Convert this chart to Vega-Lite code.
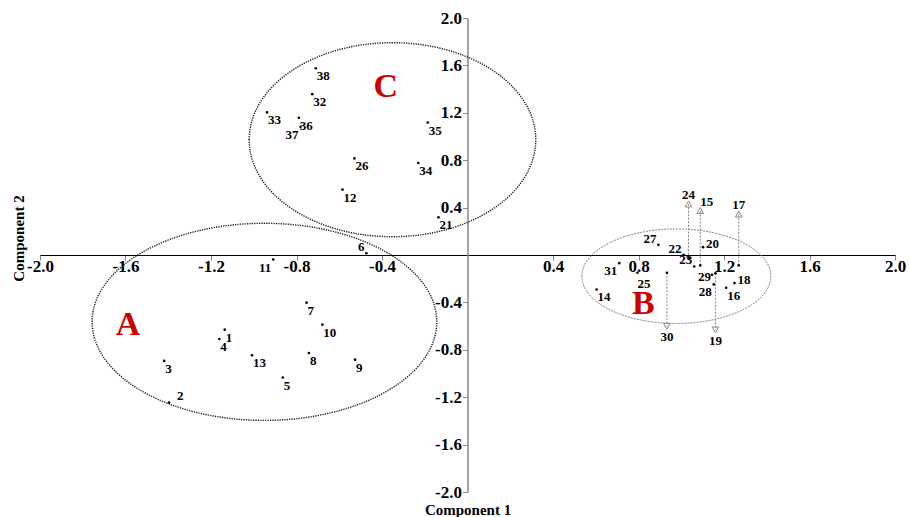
{
  "$schema": "https://vega.github.io/schema/vega-lite/v6.json",
  "autosize": {"type": "none"},
  "padding": {"left": 40, "top": 18, "right": 14, "bottom": 25},
  "width": 855,
  "height": 474,
  "background": "white",
  "config": {"view": {"stroke": null}},
  "datasets": {
    "pts": [
      {"id": "38", "x": -0.710, "y": 1.576},
      {"id": "32", "x": -0.726, "y": 1.357},
      {"id": "33", "x": -0.938, "y": 1.203},
      {"id": "36", "x": -0.789, "y": 1.158},
      {"id": "37", "x": -0.781, "y": 1.082},
      {"id": "26", "x": -0.529, "y": 0.815},
      {"id": "34", "x": -0.230, "y": 0.776},
      {"id": "35", "x": -0.186, "y": 1.118},
      {"id": "12", "x": -0.585, "y": 0.552},
      {"id": "21", "x": -0.136, "y": 0.318},
      {"id": "6", "x": -0.473, "y": 0.015},
      {"id": "11", "x": -0.909, "y": -0.038},
      {"id": "7", "x": -0.753, "y": -0.402},
      {"id": "10", "x": -0.679, "y": -0.588},
      {"id": "1", "x": -1.136, "y": -0.630},
      {"id": "4", "x": -1.161, "y": -0.709},
      {"id": "13", "x": -1.008, "y": -0.846},
      {"id": "8", "x": -0.742, "y": -0.827},
      {"id": "9", "x": -0.526, "y": -0.883},
      {"id": "3", "x": -1.419, "y": -0.894},
      {"id": "5", "x": -0.864, "y": -1.034},
      {"id": "2", "x": -1.396, "y": -1.245},
      {"id": "20", "x": 1.102, "y": 0.066},
      {"id": "27", "x": 0.893, "y": 0.086},
      {"id": "22", "x": 1.011, "y": 0.002},
      {"id": "23", "x": 1.061, "y": -0.097},
      {"id": "29", "x": 1.144, "y": -0.167},
      {"id": "28", "x": 1.152, "y": -0.248},
      {"id": "16", "x": 1.210, "y": -0.276},
      {"id": "18", "x": 1.249, "y": -0.237},
      {"id": "31", "x": 0.710, "y": -0.069},
      {"id": "25", "x": 0.795, "y": -0.150},
      {"id": "14", "x": 0.604, "y": -0.291}
    ],
    "arrows": [
      {"id": "24", "x": 1.034, "y": -0.027, "yend": 0.430},
      {"id": "15", "x": 1.089, "y": -0.088, "yend": 0.375},
      {"id": "17", "x": 1.269, "y": -0.088, "yend": 0.345},
      {"id": "30", "x": 0.933, "y": -0.150, "yend": -0.602},
      {"id": "19", "x": 1.160, "y": -0.155, "yend": -0.632}
    ],
    "clusters": [
      {"cluster": "A", "x": -0.950, "y": -0.564},
      {"cluster": "C", "x": -0.351, "y": 0.973},
      {"cluster": "B", "x": 0.977, "y": -0.179}
    ],
    "letters": [
      {"cluster": "A", "x": -1.588, "y": -0.577},
      {"cluster": "C", "x": -0.382, "y": 1.436},
      {"cluster": "B", "x": 0.823, "y": -0.400}
    ]
  },
  "encoding": {
    "x": {
      "field": "x", "type": "quantitative", "title": "Component 1",
      "scale": {"domain": [-2, 2], "nice": false, "zero": false},
      "axis": {
        "orient": "bottom", "offset": -237,
        "values": [-2, -1.6, -1.2, -0.8, -0.4, 0.4, 0.8, 1.2, 1.6, 2],
        "labelExpr": "replace(format(datum.value, '.1f'), '\u2212', '-')", "grid": false,
        "domainColor": "#000000", "domainWidth": 1,
        "tickColor": "#888888", "tickSize": 5, "tickWidth": 1,
        "labelFont": "Liberation Serif", "labelFontWeight": "bold", "labelFontSize": 17,
        "labelColor": "#000000", "labelPadding": -2, "labelFlush": false, "labelOverlap": false,
        "titleFont": "Liberation Serif", "titleFontWeight": "bold",
        "titleFontSize": 15, "titleColor": "#000000", "titleY": 254, "titleBaseline": "middle"
      }
    },
    "y": {
      "field": "y", "type": "quantitative", "title": "Component 2",
      "scale": {"domain": [-2, 2], "nice": false, "zero": false},
      "axis": {
        "orient": "left", "offset": -427.5,
        "values": [-2, -1.6, -1.2, -0.8, -0.4, 0.4, 0.8, 1.2, 1.6, 2],
        "labelExpr": "replace(format(datum.value, '.1f'), '\u2212', '-')", "grid": false,
        "domainColor": "#888888", "domainWidth": 1.5,
        "tickColor": "#888888", "tickSize": 5, "tickWidth": 1,
        "labelFont": "Liberation Serif", "labelFontWeight": "bold", "labelFontSize": 17,
        "labelColor": "#000000", "labelPadding": 1, "labelFlush": false, "labelOverlap": false,
        "titleFont": "Liberation Serif", "titleFontWeight": "bold",
        "titleFontSize": 15, "titleColor": "#000000", "titleX": -449.5, "titleY": 220,
        "titleAngle": -90, "titleAlign": "center", "titleBaseline": "middle"
      }
    }
  },
  "layer": [
    {
      "data": {"name": "clusters"},
      "transform": [{"filter": "datum.cluster == 'A'"}],
      "mark": {"type": "point", "shape": "M-1,0C-1,-0.316,-0.5523,-0.572,0,-0.572C0.5523,-0.572,1,-0.316,1,0C1,0.316,0.5523,0.572,0,0.572C-0.5523,0.572,-1,0.316,-1,0Z",
               "size": 118749, "filled": false, "stroke": "#222222", "strokeWidth": 1.4, "strokeDash": [1.3, 1.1], "opacity": 1}
    },
    {
      "data": {"name": "clusters"},
      "transform": [{"filter": "datum.cluster == 'C'"}],
      "mark": {"type": "point", "shape": "M-1,0C-1,-0.374,-0.5523,-0.677,0,-0.677C0.5523,-0.677,1,-0.374,1,0C1,0.374,0.5523,0.677,0,0.677C-0.5523,0.677,-1,0.374,-1,0Z",
               "size": 82140, "filled": false, "stroke": "#222222", "strokeWidth": 1.4, "strokeDash": [1.3, 1.1], "opacity": 1}
    },
    {
      "data": {"name": "clusters"},
      "transform": [{"filter": "datum.cluster == 'B'"}],
      "mark": {"type": "point", "shape": "M-1,0C-1,-0.276,-0.5523,-0.5,0,-0.5C0.5523,-0.5,1,-0.276,1,0C1,0.276,0.5523,0.5,0,0.5C-0.5523,0.5,-1,0.276,-1,0Z",
               "size": 35721, "filled": false, "stroke": "#888888", "strokeWidth": 1, "strokeDash": [2, 1], "opacity": 1}
    },
    {
      "data": {"name": "letters"},
      "mark": {"type": "text", "font": "Liberation Serif", "fontWeight": "bold", "fontSize": 34, "color": "#cc0000", "align": "center", "baseline": "middle", "dy": 2},
      "encoding": {"text": {"field": "cluster"}}
    },
    {
      "data": {"name": "arrows"},
      "mark": {"type": "rule", "color": "#888888", "strokeWidth": 1, "strokeDash": [2, 1.5]},
      "encoding": {"y2": {"field": "yend"}}
    },
    {
      "data": {"name": "arrows"},
      "transform": [{"filter": "datum.yend > datum.y"}],
      "mark": {"type": "point", "shape": "triangle-up", "size": 45, "filled": false, "stroke": "#888888", "strokeWidth": 1, "opacity": 1},
      "encoding": {"y": {"field": "yend", "type": "quantitative", "title": "Component 2"}}
    },
    {
      "data": {"name": "arrows"},
      "transform": [{"filter": "datum.yend < datum.y"}],
      "mark": {"type": "point", "shape": "triangle-down", "size": 45, "filled": false, "stroke": "#888888", "strokeWidth": 1, "opacity": 1},
      "encoding": {"y": {"field": "yend", "type": "quantitative", "title": "Component 2"}}
    },
    {
      "data": {"name": "arrows"},
      "transform": [{"filter": {"field": "id", "oneOf": ["24", "17"]}}],
      "mark": {"type": "text", "font": "Liberation Serif", "fontWeight": "bold", "fontSize": 13, "align": "center", "baseline": "middle", "dy": -9, "color": "#000000"},
      "encoding": {"y": {"field": "yend", "type": "quantitative", "title": "Component 2"}, "text": {"field": "id"}}
    },
    {
      "data": {"name": "arrows"},
      "transform": [{"filter": {"field": "id", "oneOf": ["15"]}}],
      "mark": {"type": "text", "font": "Liberation Serif", "fontWeight": "bold", "fontSize": 13, "align": "left", "baseline": "middle", "dx": 0, "dy": -9, "color": "#000000"},
      "encoding": {"y": {"field": "yend", "type": "quantitative", "title": "Component 2"}, "text": {"field": "id"}}
    },
    {
      "data": {"name": "arrows"},
      "transform": [{"filter": "datum.yend < datum.y"}],
      "mark": {"type": "text", "font": "Liberation Serif", "fontWeight": "bold", "fontSize": 13, "align": "center", "baseline": "middle", "dy": 11, "color": "#000000"},
      "encoding": {"y": {"field": "yend", "type": "quantitative", "title": "Component 2"}, "text": {"field": "id"}}
    },
    {
      "data": {"name": "arrows"},
      "mark": {"type": "circle", "size": 7, "color": "#000000", "opacity": 1}
    },
    {
      "data": {"name": "pts"},
      "mark": {"type": "circle", "size": 7, "color": "#000000", "opacity": 1}
    },
    {
      "data": {"name": "pts"},
      "transform": [{"filter": {"field": "id", "oneOf": ["38", "32", "33", "36", "26", "34", "35", "12", "21", "7", "10", "1", "4", "13", "8", "9", "3", "5", "14", "16"]}}],
      "mark": {"type": "text", "font": "Liberation Serif", "fontWeight": "bold", "fontSize": 13, "align": "left", "baseline": "middle", "dx": 1, "dy": 8, "color": "#000000"},
      "encoding": {"text": {"field": "id"}}
    },
    {
      "data": {"name": "pts"},
      "transform": [{"filter": {"field": "id", "oneOf": ["25"]}}],
      "mark": {"type": "text", "font": "Liberation Serif", "fontWeight": "bold", "fontSize": 13, "align": "left", "baseline": "middle", "dx": 0, "dy": 11, "color": "#000000"},
      "encoding": {"text": {"field": "id"}}
    },
    {
      "data": {"name": "pts"},
      "transform": [{"filter": {"field": "id", "oneOf": ["37", "31", "28", "11"]}}],
      "mark": {"type": "text", "font": "Liberation Serif", "fontWeight": "bold", "fontSize": 13, "align": "right", "baseline": "middle", "dx": -2, "dy": 8, "color": "#000000"},
      "encoding": {"text": {"field": "id"}}
    },
    {
      "data": {"name": "pts"},
      "transform": [{"filter": {"field": "id", "oneOf": ["6", "27", "22", "23"]}}],
      "mark": {"type": "text", "font": "Liberation Serif", "fontWeight": "bold", "fontSize": 13, "align": "right", "baseline": "middle", "dx": -2, "dy": -6, "color": "#000000"},
      "encoding": {"text": {"field": "id"}}
    },
    {
      "data": {"name": "pts"},
      "transform": [{"filter": {"field": "id", "oneOf": ["29"]}}],
      "mark": {"type": "text", "font": "Liberation Serif", "fontWeight": "bold", "fontSize": 13, "align": "right", "baseline": "middle", "dx": -1, "dy": 2, "color": "#000000"},
      "encoding": {"text": {"field": "id"}}
    },
    {
      "data": {"name": "pts"},
      "transform": [{"filter": {"field": "id", "oneOf": ["20", "18"]}}],
      "mark": {"type": "text", "font": "Liberation Serif", "fontWeight": "bold", "fontSize": 13, "align": "left", "baseline": "middle", "dx": 3, "dy": -3, "color": "#000000"},
      "encoding": {"text": {"field": "id"}}
    },
    {
      "data": {"name": "pts"},
      "transform": [{"filter": {"field": "id", "oneOf": ["2"]}}],
      "mark": {"type": "text", "font": "Liberation Serif", "fontWeight": "bold", "fontSize": 13, "align": "left", "baseline": "middle", "dx": 8, "dy": -7, "color": "#000000"},
      "encoding": {"text": {"field": "id"}}
    }
  ]
}
